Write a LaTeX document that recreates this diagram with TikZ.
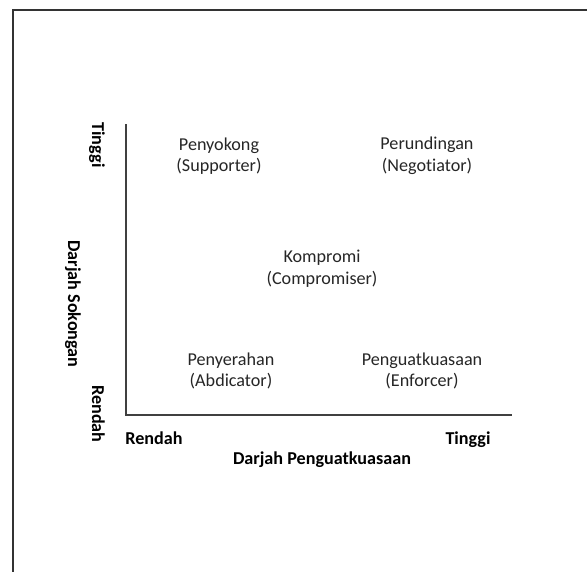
\documentclass[tikz,border=0pt]{standalone}
\usepackage{fontspec}
\setmainfont[Ligatures=NoCommon]{Carlito}
\begin{document}
\begin{tikzpicture}[x=0.75pt,y=-0.75pt,
  quad/.style={align=center,font=\fontsize{13.6}{16.2}\selectfont,text=black!85,inner sep=0pt},
  axlab/.style={font=\fontsize{13.6}{16}\selectfont\bfseries,text=black,inner sep=0pt},
  axis/.style={draw=black!75,line width=0.8pt},
  frame/.style={draw=black!80,line width=1.3pt}]
\useasboundingbox (0,0) rectangle (587,572);
\fill[white] (0,0) rectangle (587,572);
\coordinate (fbl) at (13,572);
\coordinate (ftl) at (13,10);
\coordinate (ftr) at (587,10);
\draw[frame] (fbl) -- (ftl) -- (ftr);
\coordinate (top) at (126,124);
\coordinate (orig) at (126,415);
\coordinate (right) at (512,415);
\draw[axis] (top) -- (orig) -- (right);
\node[quad] (sup) at (219,156) {Penyokong\\(Supporter)};
\node[quad] (neg) at (427,156) {Perundingan\\(Negotiator)};
\node[quad] (com) at (322,269) {Kompromi\\(Compromiser)};
\node[quad] (abd) at (231,371) {Penyerahan\\(Abdicator)};
\node[quad] (enf) at (422,371) {Penguatkuasaan\\(Enforcer)};
\node[axlab,rotate=-90,anchor=base] (yhi) at (92,145) {Tinggi};
\node[axlab,rotate=-90] (ytit) at (73,304) {Darjah Sokongan};
\node[axlab,rotate=-90,anchor=base] (ylo) at (92,414) {Rendah};
\node[axlab,anchor=base] (xlo) at (154,444) {Rendah};
\node[axlab,anchor=base] (xhi) at (468,444) {Tinggi};
\node[axlab,anchor=base] (xtit) at (322,464) {Darjah Penguatkuasaan};
\end{tikzpicture}
\end{document}
